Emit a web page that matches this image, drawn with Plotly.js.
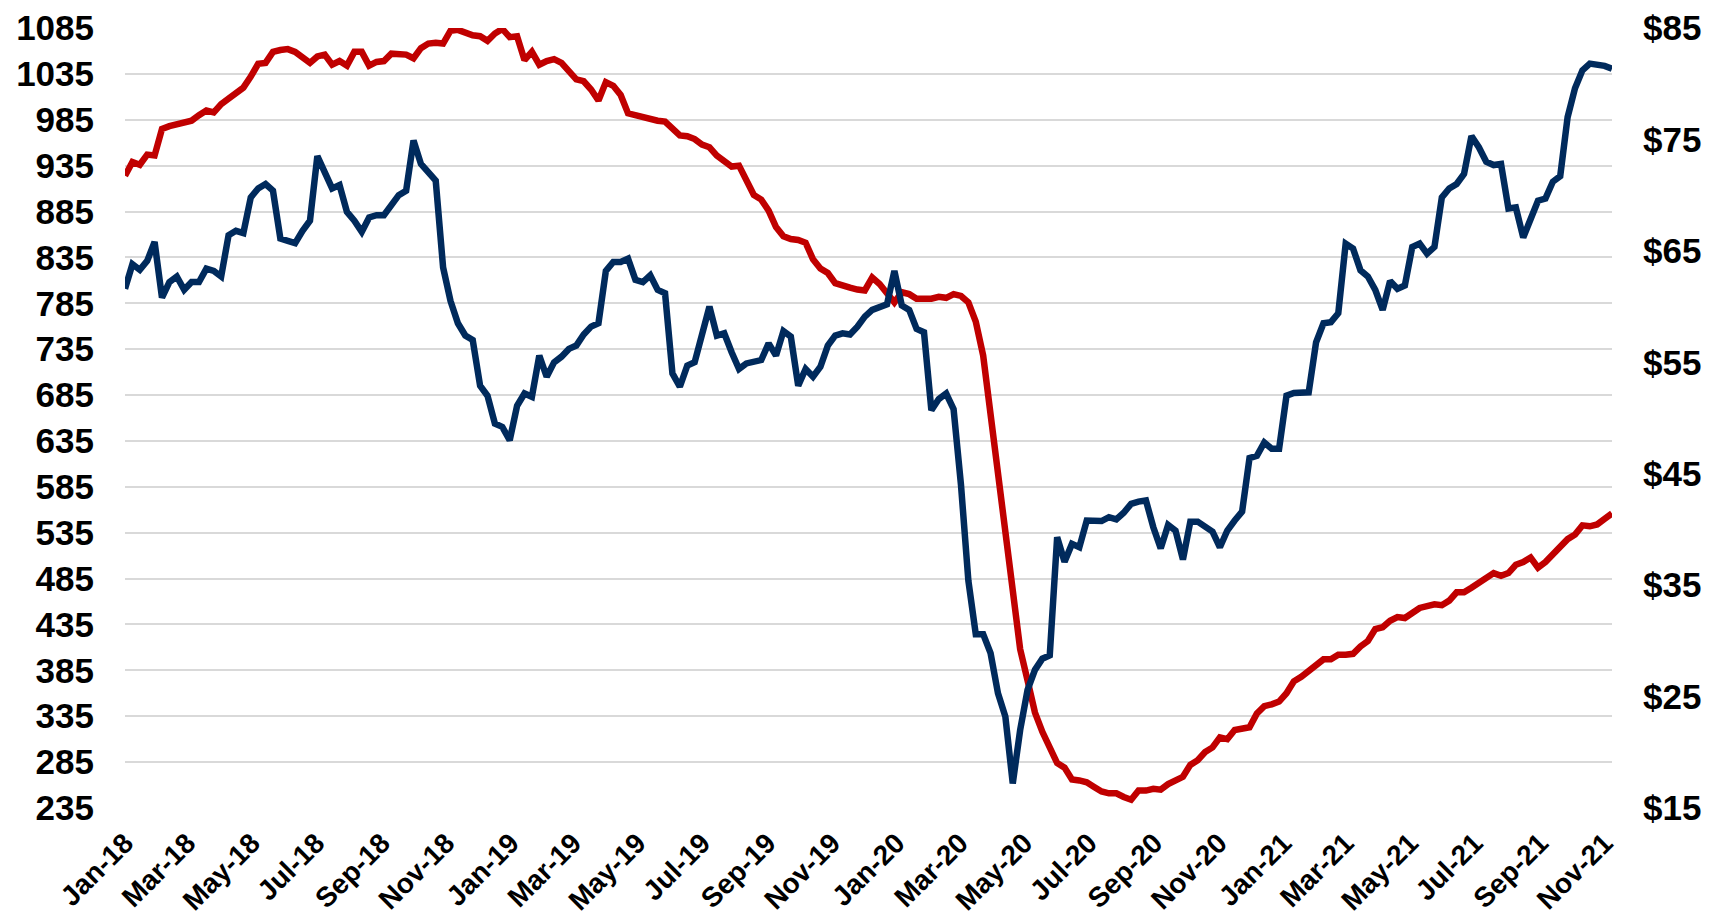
<!DOCTYPE html>
<html>
<head>
<meta charset="utf-8">
<script src="https://cdn.plot.ly/plotly-3.0.1.min.js"></script>
<style>
  html, body { margin: 0; padding: 0; background: #ffffff; }
  #chart { width: 1721px; height: 915px; }
</style>
</head>
<body>
<div id="chart"></div>
<script>
// Weekly observations, first week ending 2018-01-05, last 2021-11-12
const firstWeek = '2018-01-05';
const weekCount = 202;

// Red series (left axis): weekly count
const rigCount = [
  924, 939, 936, 947, 946, 975, 978, 980, 982, 984,
  990, 995, 993, 1002, 1008, 1013, 1020, 1032, 1046, 1047,
  1059, 1061, 1062, 1059, 1052, 1047, 1054, 1056, 1045, 1049,
  1044, 1059, 1059, 1044, 1048, 1049, 1057, 1056, 1056, 1052,
  1063, 1068, 1069, 1068, 1082, 1083, 1080, 1077, 1076, 1071,
  1079, 1084, 1075, 1076, 1050, 1059, 1045, 1049, 1051, 1047,
  1038, 1029, 1027, 1018, 1006, 1026, 1022, 1012, 992, 990,
  988, 985, 984, 983, 975, 968, 967, 964, 958, 955,
  946, 941, 934, 935, 917, 903, 898, 886, 868, 858,
  855, 854, 851, 833, 823, 818, 807, 804, 802, 800,
  799, 813, 806, 796, 786, 797, 795, 790, 790, 790,
  792, 791, 795, 793, 786, 765, 728, 664, 602, 529,
  465, 408, 374, 339, 318, 301, 284, 279, 266, 265,
  263, 258, 253, 251, 251, 247, 244, 254, 254, 256,
  255, 261, 266, 269, 282, 287, 296, 301, 312, 310,
  320, 322, 323, 338, 346, 348, 351, 360, 373, 378,
  384, 392, 397, 397, 402, 402, 403, 411, 417, 430,
  432, 439, 443, 442, 448, 453, 455, 457, 456, 461,
  470, 470, 475, 480, 484, 491, 488, 491, 500, 503,
  508, 497, 503, 512, 521, 528, 533, 543, 542, 544,
  550, 556
];

// Blue series (right axis): weekly price, $/bbl
const oilPrice = [
  61.6, 63.8, 63.3, 64.1, 65.8, 60.8, 62.2, 62.7, 61.5, 62.2,
  62.2, 63.4, 63.2, 62.7, 66.4, 66.8, 66.6, 69.8, 70.6, 71.0,
  70.4, 66.1, 65.9, 65.7, 66.8, 67.7, 73.5, 71.9, 70.6, 70.9,
  68.5, 67.7, 66.7, 68.0, 68.2, 68.2, 69.2, 70.0, 70.4, 74.9,
  72.8, 72.0, 71.3, 63.5, 60.5, 58.5, 57.4, 57.0, 52.9, 52.0,
  49.5, 49.2, 48.0, 51.1, 52.2, 51.9, 55.6, 53.7, 55.0, 55.5,
  56.2, 56.5, 57.5, 58.2, 58.5, 63.2, 64.0, 64.0, 64.3, 62.4,
  62.2, 62.8, 61.5, 61.2, 54.0, 52.8, 54.7, 55.0, 57.7, 60.0,
  57.4, 57.6, 55.9, 54.4, 54.9, 55.1, 55.2, 56.7, 55.6, 57.8,
  57.3, 52.9, 54.4, 53.7, 54.6, 56.5, 57.4, 57.6, 57.5, 58.2,
  59.1, 59.7, 60.0, 60.2, 63.2, 60.1, 59.7, 58.0, 57.7, 50.7,
  51.7, 52.2, 50.8, 44.0, 35.4, 30.6, 30.6, 28.9, 25.3, 23.2,
  17.2, 22.0, 25.6, 27.4, 28.4, 28.7, 39.3, 37.1, 38.7, 38.4,
  40.8, 40.8, 40.75, 41.1, 40.9, 41.5, 42.3, 42.5, 42.6, 40.2,
  38.3, 40.4, 39.9, 37.3, 40.7, 40.7, 40.2, 39.8, 38.4, 39.9,
  40.8, 41.6, 46.4, 46.6, 47.8, 47.25, 47.25, 52.0, 52.25, 52.3,
  52.3, 56.8, 58.5, 58.6, 59.4, 65.65, 65.2, 63.25, 62.7, 61.5,
  59.7, 62.3, 61.6, 61.9, 65.35, 65.65, 64.75, 65.35, 69.8, 70.6,
  71.0, 71.9, 75.3, 74.3, 73.0, 72.7, 72.8, 68.8, 68.9, 66.2,
  68.0, 69.5, 69.7, 71.2, 71.7, 77.0, 79.6, 81.2, 81.8, 81.7,
  81.6, 81.35
];

// Axis settings (values only)
const leftMin = 235, leftMax = 1085, leftStep = 50;
const rightMin = 15, rightMax = 85, rightStep = 10;
const firstTick = '2018-01-05';
const lastWeek = '2021-11-12';

// Build the weekly date categories
const weeks = [];
{
  const d0 = new Date(firstWeek + 'T00:00:00Z');
  for (let i = 0; i < weekCount; i++) {
    const d = new Date(d0.getTime() + i * 7 * 86400000);
    weeks.push(d.toISOString().slice(0, 10));
  }
}

const RED = '#C00000';
const BLUE = '#002A5C';
const FONT = 'Liberation Sans, Arial, sans-serif';

const traces = [
  {
    x: weeks, y: rigCount, type: 'scatter', mode: 'lines',
    line: { color: RED, width: 6.5 }, yaxis: 'y', hoverinfo: 'skip'
  },
  {
    x: weeks, y: oilPrice, type: 'scatter', mode: 'lines',
    line: { color: BLUE, width: 6.5 }, yaxis: 'y2', hoverinfo: 'skip'
  }
];

const layout = {
  width: 1721, height: 915,
  paper_bgcolor: '#ffffff', plot_bgcolor: '#ffffff',
  showlegend: false,
  margin: { l: 125, r: 109, t: 28, b: 107, pad: 0 },
  xaxis: {
    type: 'date',
    range: [firstWeek, lastWeek],
    tick0: firstTick, dtick: 'M2', tickformat: '%b-%y',
    tickangle: -45,
    tickfont: { family: FONT, size: 28, color: '#000000', weight: 'bold' },
    showgrid: false, zeroline: false, showline: false, ticks: '',
    ticklabelstandoff: 12,
    automargin: false
  },
  yaxis: {
    range: [leftMin, leftMax],
    tick0: leftMin, dtick: leftStep,
    tickfont: { family: FONT, size: 35, color: '#000000', weight: 'bold' },
    showgrid: true, gridcolor: '#d9d9d9', gridwidth: 2,
    zeroline: false, showline: false, ticks: '',
    ticklabelstandoff: 30,
    automargin: false
  },
  yaxis2: {
    overlaying: 'y', side: 'right',
    range: [rightMin, rightMax],
    tick0: rightMin, dtick: rightStep, tickprefix: '$',
    tickfont: { family: FONT, size: 35, color: '#000000', weight: 'bold' },
    showgrid: false, zeroline: false, showline: false, ticks: '',
    ticklabelstandoff: 30,
    automargin: false
  }
};

Plotly.newPlot('chart', traces, layout, { staticPlot: true, displayModeBar: false });
</script>
</body>
</html>
